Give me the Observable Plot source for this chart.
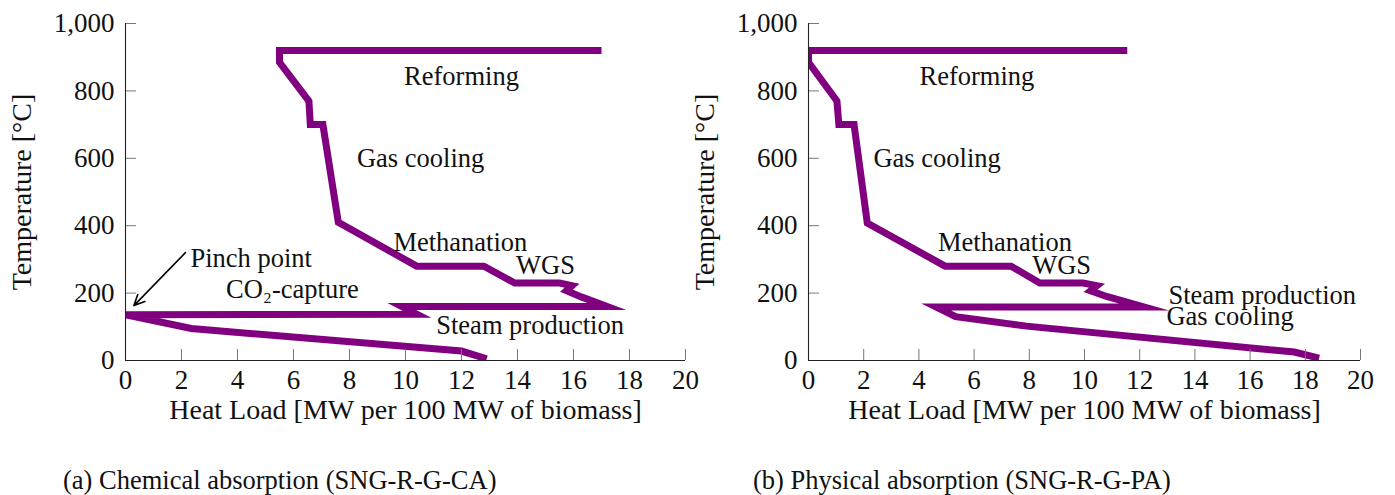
<!DOCTYPE html>
<html>
<head>
<meta charset="utf-8">
<script src="https://cdn.jsdelivr.net/npm/d3@7"></script>
<script src="https://cdn.jsdelivr.net/npm/@observablehq/plot@0.6"></script>
<style>
  body { margin: 0; background: #fff; }
  #wrap { position: relative; width: 1395px; height: 495px; font-family: "Liberation Serif", "DejaVu Serif", serif; }
  .chart { position: absolute; top: 0; }
  .cap { position: absolute; top: 465px; font-size: 26.5px; line-height: 30px; color: #111; white-space: nowrap; }
</style>
</head>
<body>
<div id="wrap">
  <div id="a" class="chart" style="left:0px"></div>
  <div id="b" class="chart" style="left:690px"></div>
  <div id="capA" class="cap" style="left:63px"></div>
  <div id="capB" class="cap" style="left:753px"></div>
</div>
<script>
// ---- data ----
const xTicks = [0, 2, 4, 6, 8, 10, 12, 14, 16, 18, 20];
const yTicks = [0, 200, 400, 600, 800, 1000];
const xLabel = "Heat Load [MW per 100 MW of biomass]";
const yLabel = "Temperature [°C]";
const captions = ["(a) Chemical absorption (SNG-R-G-CA)", "(b) Physical absorption (SNG-R-G-PA)"];

// (a) Chemical absorption: grand composite curve
const caHeat = [17.0, 5.5, 5.5, 6.55, 6.6, 7.05, 7.6, 10.4, 12.8, 13.9, 15.5, 15.95, 15.75, 16.3, 17.2, 9.87, 10.41, 0.0, 2.35, 12.0, 12.9];
const caTemp = [920, 920, 885, 770, 700, 700, 410, 280, 280, 230, 230, 222, 207, 188, 160, 160, 137, 136, 95, 28, 5];

// (b) Physical absorption: grand composite curve
const paHeat = [11.55, 0.0, 0.0, 1.03, 1.1, 1.65, 2.13, 4.95, 7.34, 8.38, 9.95, 10.45, 10.22, 10.8, 12.15, 4.62, 5.33, 7.9, 17.6, 18.5];
const paTemp = [920, 920, 885, 770, 700, 700, 408, 280, 280, 230, 230, 222, 207, 190, 159, 159, 130, 102, 25, 7];

// annotations
const caNotes = ["Reforming", "Gas cooling", "Methanation", "WGS", "Pinch point", "CO₂-capture", "Steam production"];
const caNoteX = [12.0, 10.54, 11.96, 15.0, 2.32, 5.96, 14.45];
const caNoteT = [842, 600, 350, 282, 303, 211, 104];
const caNoteAnchor = ["middle", "middle", "middle", "middle", "start", "middle", "middle"];

const paNotes = ["Reforming", "Gas cooling", "Methanation", "WGS", "Steam production", "Gas cooling"];
const paNoteX = [6.1, 4.66, 7.12, 9.17, 13.04, 12.97];
const paNoteT = [842, 600, 350, 282, 193, 130];
const paNoteAnchor = ["middle", "middle", "middle", "middle", "start", "start"];

// pinch point arrow (from label to pinch)
const pinchArrow = [{x1: 2.14, y1: 320, x2: 0.3, y2: 163}];

// ---- build ----
function chart({heat, temp, notes, noteX, noteT, noteAnchor, arrow, marginLeft, marginRight, width}) {
  const height = 440, marginTop = 23, marginBottom = 80;
  const plotW = width - marginLeft - marginRight;
  const plotH = height - marginTop - marginBottom;
  const tickLen = 11;
  const curve = heat.map((h, i) => ({h, t: temp[i]}));
  const labels = notes.map((s, i) => ({s, x: noteX[i], t: noteT[i], a: noteAnchor[i]}));
  const marks = [
    Plot.line(curve, {x: "h", y: "t", stroke: "#800080", strokeWidth: 7, strokeLinejoin: "miter", strokeMiterlimit: 10, strokeLinecap: "butt", clip: true}),
    Plot.ruleX(xTicks, {x: d => d, stroke: "#777", strokeWidth: 1, insetTop: plotH - tickLen}),
    Plot.ruleY(yTicks, {y: d => d, stroke: "#777", strokeWidth: 1, insetRight: plotW - tickLen}),
    Plot.ruleY([0], {stroke: "#222", strokeWidth: 1.1}),
    Plot.ruleX([0], {stroke: "#222", strokeWidth: 1.1}),
    Plot.axisX({ticks: xTicks, label: null, tickSize: 0, tickPadding: 9, fontSize: 27, tickFormat: d3.format("d")}),
    Plot.axisY({ticks: yTicks, label: null, tickSize: 0, tickPadding: 11, fontSize: 27, tickFormat: d3.format(",")}),
    Plot.text([xLabel], {frameAnchor: "bottom", dy: 58, textAnchor: "middle", fontSize: 28, fill: "#111"}),
    Plot.text([yLabel], {frameAnchor: "left", rotate: -90, textAnchor: "middle", dx: -103, fontSize: 28, fill: "#111"}),
    ...["start", "middle"].map(a => Plot.text(labels.filter(d => d.a === a), {x: "x", y: "t", text: "s", textAnchor: a, fontSize: 26.5, fill: "#111"}))
  ];
  if (arrow) marks.push(Plot.arrow(arrow, {x1: "x1", y1: "y1", x2: "x2", y2: "y2", stroke: "#000", strokeWidth: 1.6, headLength: 11, headAngle: 50}));
  return Plot.plot({
    width, height, marginTop, marginBottom, marginLeft, marginRight,
    style: {fontFamily: "'Liberation Serif', 'DejaVu Serif', serif", fontSize: "27px", color: "#111", background: "transparent", overflow: "visible"},
    x: {domain: [0, 20], axis: null},
    y: {domain: [0, 1000], axis: null},
    marks
  });
}

document.getElementById("a").append(chart({
  heat: caHeat, temp: caTemp, notes: caNotes, noteX: caNoteX, noteT: caNoteT, noteAnchor: caNoteAnchor,
  arrow: pinchArrow, marginLeft: 125, marginRight: 15, width: 700
}));
document.getElementById("b").append(chart({
  heat: paHeat, temp: paTemp, notes: paNotes, noteX: paNoteX, noteT: paNoteT, noteAnchor: paNoteAnchor,
  arrow: null, marginLeft: 118, marginRight: 20, width: 690
}));
document.getElementById("capA").textContent = captions[0];
document.getElementById("capB").textContent = captions[1];
</script>
</body>
</html>
